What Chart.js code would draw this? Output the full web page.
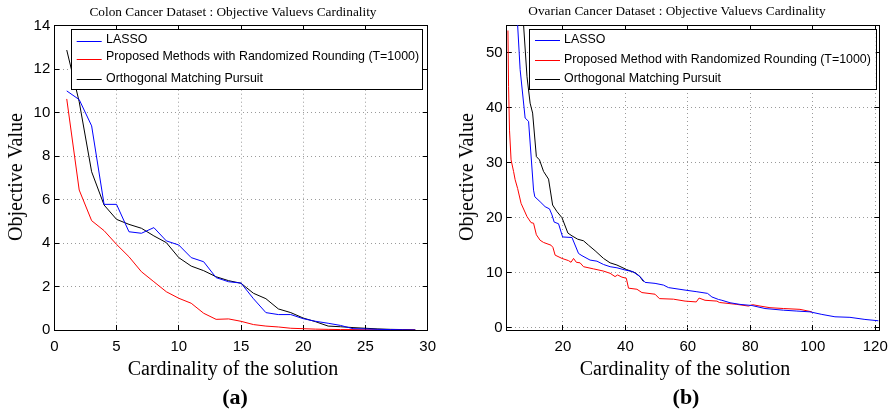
<!DOCTYPE html>
<html>
<head>
<meta charset="utf-8">
<title>Objective Value vs Cardinality</title>
<script src="https://cdn.jsdelivr.net/npm/chart.js@4.4.1/dist/chart.umd.min.js"></script>
<style>
  body { margin: 0; background: #fff; }
  #figure { position: relative; width: 894px; height: 410px; overflow: hidden; background: #fff; }
  canvas { position: absolute; top: 0; }
  #colonChart { left: 0; }
  #ovarianChart { left: 450px; }
  .cap { position: absolute; transform: translate(-50%, -50%); white-space: nowrap;
         font-family: "Liberation Serif", "Times New Roman", serif; color: #000; line-height: 1; }
  .title { font-size: 13.3px; }
  .axis { font-size: 20px; }
  .ylab { transform: translate(-50%, -50%) rotate(-90deg); }
  .panel { font-size: 22px; font-weight: bold; }
</style>
</head>
<body>
<div id="figure">
  <canvas id="colonChart" width="450" height="410"></canvas>
  <canvas id="ovarianChart" width="456" height="410"></canvas>

  <div class="cap title" style="left:233px; top:12px;">Colon Cancer Dataset : Objective Valuevs Cardinality</div>
  <div class="cap axis ylab" style="left:15px; top:177px;">Objective Value</div>
  <div class="cap axis" style="left:233px; top:368px;">Cardinality of the solution</div>
  <div class="cap panel" style="left:235px; top:397px;">(a)</div>

  <div class="cap title" style="left:677px; top:11px;">Ovarian Cancer Dataset : Objective Valuevs Cardinality</div>
  <div class="cap axis ylab" style="left:466px; top:177px;">Objective Value</div>
  <div class="cap axis" style="left:685px; top:368px;">Cardinality of the solution</div>
  <div class="cap panel" style="left:686px; top:397px;">(b)</div>
</div>

<script>
// ---- colon cancer data (a) ----
const colonCardinality = [1, 2, 3, 4, 5, 6, 7, 8, 9, 10, 11, 12, 13, 14, 15, 16, 17, 18, 19, 20, 21, 22, 23, 24, 25, 26, 27, 28, 29];
const colonLasso = [11.0, 10.6, 9.39, 5.78, 5.78, 4.52, 4.45, 4.71, 4.10, 3.91, 3.33, 3.14, 2.41, 2.22, 2.16, 1.44, 0.80, 0.71, 0.71, 0.52, 0.40, 0.31, 0.21, 0.06, 0.05, 0.03, 0.02, 0.01, 0.0];
const colonProposed = [10.63, 6.44, 5.03, 4.57, 3.94, 3.37, 2.68, 2.22, 1.76, 1.46, 1.23, 0.77, 0.49, 0.51, 0.40, 0.25, 0.18, 0.14, 0.08, 0.06, 0.04, 0.03, 0.02, 0.02, 0.01, 0.01, 0.01, 0.0, 0.0];
const colonOmp = [12.88, 10.5, 7.28, 5.75, 5.09, 4.86, 4.68, 4.33, 4.02, 3.33, 2.94, 2.73, 2.45, 2.27, 2.15, 1.69, 1.44, 0.97, 0.80, 0.55, 0.38, 0.18, 0.15, 0.11, 0.08, 0.05, 0.03, 0.02, 0.01];
const colonXTicks = [0, 5, 10, 15, 20, 25, 30];
const colonYTicks = [0, 2, 4, 6, 8, 10, 12, 14];

// ---- ovarian cancer data (b) ----
const ovarianLassoX = [5, 6.3, 7.9, 9.0, 10.6, 11.0, 12.7, 14.3, 15.7, 16.5, 17.2, 18.6, 19.9, 22.9, 25.0, 26.1, 28.7, 30.9, 33.0, 35.1, 37.3, 39.9, 42.4, 44.7, 46.3, 49.5, 52.2, 53.8, 59.1, 62.9, 66.3, 67.7, 69.8, 70.9, 73.5, 76.7, 80.5, 84.7, 90.6, 94.9, 99.1, 102.9, 107.1, 111.9, 116.7, 121];
const ovarianLassoY = [60, 46.9, 38.1, 37.5, 25.0, 23.8, 22.9, 22.0, 21.6, 20.5, 19.2, 18.9, 16.5, 16.4, 13.5, 13.1, 12.3, 12.1, 11.5, 11.1, 10.9, 10.5, 10.2, 9.3, 8.25, 8.07, 7.76, 7.3, 6.85, 6.55, 6.25, 5.6, 5.15, 5.0, 4.55, 4.25, 4.05, 3.5, 3.2, 3.04, 2.9, 2.43, 2.0, 1.9, 1.52, 1.28];
const ovarianProposedX = [2.4, 2.6, 2.9, 3.4, 4.2, 4.7, 5.5, 6.6, 8.5, 9.8, 10.6, 11.5, 12.7, 13.8, 16.2, 16.8, 17.5, 19.7, 21.8, 22.6, 23.4, 24.3, 25.5, 26.6, 29.8, 33.0, 35.1, 36.7, 37.5, 38.9, 40.3, 41.0, 43.7, 45.3, 49.5, 50.9, 55.4, 59.1, 62.7, 63.6, 65.5, 69.3, 70.1, 75.7, 79.4, 80.7, 83.1, 86.3, 90.6, 95.9, 99.7];
const ovarianProposedY = [54.0, 43.8, 35.9, 30.5, 28.4, 26.9, 25.3, 22.6, 20.2, 19.1, 19.0, 16.9, 15.9, 15.5, 15.0, 14.6, 13.2, 12.6, 12.2, 11.9, 12.6, 11.9, 11.8, 11.1, 10.7, 10.3, 9.9, 9.3, 9.6, 9.2, 9.0, 7.2, 7.0, 6.4, 6.1, 5.3, 5.2, 4.85, 4.7, 5.4, 5.0, 4.85, 4.6, 4.25, 3.95, 4.2, 3.95, 3.65, 3.5, 3.35, 2.9];
const ovarianOmpX = [7, 7.4, 8.5, 9.5, 10.3, 11.5, 12.5, 13.8, 15.4, 16.7, 18.1, 19.7, 21.6, 22.9, 24.7, 26.6, 28.2, 30.3, 33.0, 35.1, 37.3, 40.3, 43.1, 44.5, 45.8];
const ovarianOmpY = [58, 55, 45.6, 40.8, 39.0, 31.1, 30.5, 28.4, 27.0, 22.3, 21.1, 20.0, 17.2, 16.7, 16.1, 15.8, 15.0, 14.0, 12.6, 11.8, 11.4, 10.6, 10.0, 9.4, 8.4];
const ovarianXTicks = [20, 40, 60, 80, 100, 120];
const ovarianYTicks = [0, 10, 20, 30, 40, 50];

const seriesLabels = ['LASSO', 'Proposed Methods with Randomized Rounding (T=1000)', 'Orthogonal Matching Pursuit'];
const seriesColors = ['#0000ff', '#ff0000', '#000000'];

function toPoints(xs, ys) {
    return xs.map((x, i) => ({ x: x, y: ys[i] }));
}

function setTicks(scale, values) {
    scale.ticks = values.map(v => ({ value: v }));
}

// MATLAB style legend: white box with a frame, drawn over the lines
const boxLegend = {
    id: 'boxLegend',
    afterDatasetsDraw(chart, args, opts) {
        const { ctx, chartArea } = chart;
        const left = chartArea.left + opts.offsetLeft;
        const top = chartArea.top + opts.offsetTop;
        const width = chartArea.right - opts.offsetRight - left;
        ctx.save();
        ctx.fillStyle = '#fff';
        ctx.fillRect(left, top, width, opts.height);
        ctx.strokeStyle = '#000';
        ctx.lineWidth = 1;
        ctx.strokeRect(Math.round(left) + 0.5, Math.round(top) + 0.5, Math.round(width), Math.round(opts.height));
        ctx.font = opts.font;
        ctx.textBaseline = 'middle';
        chart.data.datasets.forEach((ds, i) => {
            const ly = Math.round(top + opts.lineRows[i]) + 0.5;
            ctx.strokeStyle = ds.borderColor;
            ctx.beginPath();
            ctx.moveTo(left + opts.lineStart, ly);
            ctx.lineTo(left + opts.lineStart + opts.lineLength, ly);
            ctx.stroke();
            ctx.fillStyle = '#000';
            ctx.fillText(ds.label, left + opts.textStart, top + opts.textRows[i]);
        });
        ctx.restore();
    }
};

// rightWidth must hold half of the last x label plus the tick padding,
// otherwise Chart.js shrinks the plot area to make room for it
function buildScales(xRange, yRange, xTicks, yTicks, yWidth, rightWidth) {
    const grid = { color: '#9a9a9a', lineWidth: 1, tickColor: '#000', tickLength: -5, tickWidth: 1 };
    const border = { color: '#000', width: 1, dash: [1, 3] };
    const tickFont = { family: '"Liberation Sans", Arial, sans-serif', size: 15 };
    const hidden = { display: false };
    return {
        x: {
            type: 'linear', position: 'bottom', min: xRange[0], max: xRange[1],
            afterBuildTicks: s => setTicks(s, xTicks),
            afterFit: s => { s.height = 80; },
            grid: grid, border: border,
            ticks: { font: tickFont, color: '#000', padding: 13, maxRotation: 0, autoSkip: false }
        },
        y: {
            type: 'linear', position: 'left', min: yRange[0], max: yRange[1],
            afterBuildTicks: s => setTicks(s, yTicks),
            afterFit: s => { s.width = yWidth; },
            grid: grid, border: border,
            ticks: { font: tickFont, color: '#000', padding: 9, autoSkip: false }
        },
        xTop: {
            type: 'linear', position: 'top', min: xRange[0], max: xRange[1],
            afterBuildTicks: s => setTicks(s, xTicks),
            afterFit: s => { s.height = 0; },
            grid: Object.assign({}, grid, { drawOnChartArea: false }), border: border,
            ticks: hidden
        },
        yRight: {
            type: 'linear', position: 'right', min: yRange[0], max: yRange[1],
            afterBuildTicks: s => setTicks(s, yTicks),
            afterFit: s => { s.width = rightWidth; },
            grid: Object.assign({}, grid, { drawOnChartArea: false }), border: border,
            ticks: hidden
        }
    };
}

function lineSet(i, points, label) {
    return {
        label: label || seriesLabels[i],
        data: points,
        borderColor: seriesColors[i],
        borderWidth: 1,
        pointRadius: 0,
        tension: 0,
        fill: false
    };
}

new Chart(document.getElementById('colonChart'), {
    type: 'line',
    data: {
        datasets: [
            lineSet(0, toPoints(colonCardinality, colonLasso)),
            lineSet(1, toPoints(colonCardinality, colonProposed)),
            lineSet(2, toPoints(colonCardinality, colonOmp))
        ]
    },
    options: {
        responsive: false,
        animation: false,
        layout: { padding: { left: 0, top: 25.7, right: 0, bottom: 0 } },
        scales: buildScales([0, 30], [0, 14], colonXTicks, colonYTicks, 54.3, 22.3),
        plugins: {
            legend: { display: false },
            tooltip: { enabled: false },
            boxLegend: {
                offsetLeft: 16.7, offsetTop: 3.6, offsetRight: 6, height: 60,
                lineRows: [11.4, 30, 49.7], textRows: [10.7, 27.4, 49.7],
                lineStart: 5.7, lineLength: 25, textStart: 35,
                font: '12.4px "Liberation Sans", Arial, sans-serif'
            }
        }
    },
    plugins: [boxLegend]
});

new Chart(document.getElementById('ovarianChart'), {
    type: 'line',
    data: {
        datasets: [
            lineSet(0, toPoints(ovarianLassoX, ovarianLassoY)),
            lineSet(1, toPoints(ovarianProposedX, ovarianProposedY), 'Proposed Method with Randomized Rounding (T=1000)'),
            lineSet(2, toPoints(ovarianOmpX, ovarianOmpY))
        ]
    },
    options: {
        responsive: false,
        animation: false,
        layout: { padding: { left: 0, top: 25, right: 0, bottom: 0 } },
        scales: buildScales([2, 121.3], [-0.4, 55], ovarianXTicks, ovarianYTicks, 56.7, 26.7),
        plugins: {
            legend: { display: false },
            tooltip: { enabled: false },
            boxLegend: {
                offsetLeft: 22.3, offsetTop: 4.3, offsetRight: 3.6, height: 60,
                lineRows: [10.7, 30.7, 49.7], textRows: [10.7, 30.7, 49.7],
                lineStart: 6, lineLength: 25, textStart: 35,
                font: '12.4px "Liberation Sans", Arial, sans-serif'
            }
        }
    },
    plugins: [boxLegend]
});
</script>
</body>
</html>
